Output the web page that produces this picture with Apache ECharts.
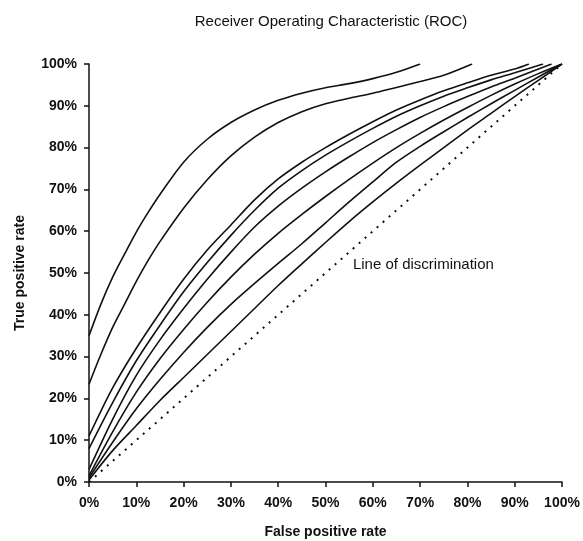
<!DOCTYPE html>
<html>
<head>
<meta charset="utf-8">
<script src="https://cdn.jsdelivr.net/npm/echarts@6/dist/echarts.min.js"></script>
<style>
  html, body { margin: 0; padding: 0; background: #fff; }
  #chart { width: 583px; height: 541px; }
</style>
</head>
<body>
<div id="chart"></div>
<script>
// Tick values (percent)
var tickValues = [0, 10, 20, 30, 40, 50, 60, 70, 80, 90, 100];

// ROC curves: [false positive rate %, true positive rate %]
var curve1 = [[0,35],[2.5,42.5],[5,49],[7.5,54.5],[10,59.8],[12.5,64.5],[15,68.8],[20,76.5],[25,82],[30,86],[35,89],[40,91.3],[45,93],[50,94.3],[55,95.3],[60,96.5],[65,98],[70,100]];
var curve2 = [[0,23.4],[2.5,30.5],[5,37],[7.5,42.5],[10,48],[12.5,53],[15,57.5],[20,65.5],[25,72.3],[30,78],[35,82.5],[40,86],[45,88.6],[50,90.5],[55,91.8],[60,93],[65,94.4],[70,95.8],[75,97.3],[81,100]];
var curve3 = [[0,11],[5,22.5],[10,32],[15,40.5],[20,48.5],[25,55.5],[30,61.5],[35,67.5],[40,72.5],[45,76.5],[50,80],[55,83.2],[60,86.2],[65,89],[70,91.4],[75,93.6],[80,95.5],[85,97.3],[90,98.8],[93,100]];
var curve4 = [[0,8],[5,19],[10,29],[15,37.5],[20,45.5],[25,52.5],[30,59],[35,65],[40,70.3],[45,74.5],[50,78.2],[55,81.5],[60,84.6],[65,87.5],[70,90],[75,92.3],[80,94.3],[85,96.2],[90,97.9],[96,100]];
var curve5 = [[0,3],[5,15],[10,25.5],[15,34],[20,41.5],[25,48.5],[30,55],[35,61],[40,66],[45,70.3],[50,74.2],[55,77.8],[60,81.2],[65,84.3],[70,87.2],[75,89.8],[80,92.2],[85,94.5],[90,96.6],[97.8,100]];
var curve6 = [[0,1.5],[5,12],[10,21.5],[15,29.5],[20,36.5],[25,43],[30,49],[35,54.5],[40,59.5],[45,64],[50,68.3],[55,72.4],[60,76.3],[65,80],[70,83.4],[75,86.6],[80,89.6],[85,92.5],[90,95.2],[95,97.7],[100,100]];
var curve7 = [[0,1],[5,9.5],[10,17.5],[15,24.5],[20,31],[25,37],[30,42.5],[35,47.5],[40,52.3],[45,57],[50,62],[55,67],[60,71.8],[65,76.5],[70,80.3],[75,83.8],[80,87.2],[85,90.5],[90,93.7],[95,96.9],[100,100]];
var curve8 = [[0,0.5],[5,7.5],[10,13.5],[15,19.5],[20,25],[25,30.5],[30,36],[35,41.5],[40,47],[45,52.2],[50,57.3],[55,62.3],[60,67],[65,71.5],[70,75.8],[75,80],[80,84.2],[85,88.2],[90,92.2],[95,96.1],[100,100]];
// Line of discrimination (random classifier)
var diagonal = [[0,0],[100,100]];
var diagonalLabel = 'Line of discrimination';
var diagonalLabelAt = [55.8, 52];

var titleText = 'Receiver Operating Characteristic (ROC)';
var xName = 'False positive rate';
var yName = 'True positive rate';

var FONT = 'Liberation Sans, Arial, Helvetica, sans-serif';
var curves = [curve1, curve2, curve3, curve4, curve5, curve6, curve7, curve8];

var series = curves.map(function (c, i) {
  return {
    type: 'line',
    name: 'ROC ' + (i + 1),
    data: c,
    showSymbol: false,
    smooth: 0.3,
    lineStyle: { color: '#111', width: 1.6 },
    silent: true,
    z: 3
  };
});
series.push({
  type: 'line',
  name: 'diag',
  data: diagonal,
  showSymbol: false,
  lineStyle: { color: '#111', width: 2, type: [2, 6] },
  silent: true,
  z: 2,
  markPoint: {
    symbol: 'circle',
    symbolSize: 0,
    data: [{ coord: diagonalLabelAt, value: diagonalLabel }],
    label: {
      show: true,
      position: 'right',
      distance: 0,
      formatter: diagonalLabel,
      color: '#111',
      fontFamily: FONT,
      fontSize: 15,
      fontWeight: 'normal'
    }
  }
});

var chart = echarts.init(document.getElementById('chart'), null, { renderer: 'canvas' });
chart.setOption({
  animation: false,
  backgroundColor: '#fff',
  title: {
    text: titleText,
    left: 326,
    top: 9,
    textAlign: 'center',
    textStyle: { fontFamily: FONT, fontSize: 15, fontWeight: 'normal', color: '#111' }
  },
  grid: { left: 89, right: 21, top: 64, bottom: 59, containLabel: false, outerBoundsMode: 'none' },
  xAxis: {
    type: 'value',
    min: 0, max: 100, interval: 10,
    name: xName,
    nameLocation: 'middle',
    nameGap: 43,
    nameTextStyle: { fontFamily: FONT, fontSize: 14, fontWeight: 'bold', color: '#111' },
    axisLine: { show: true, lineStyle: { color: '#111', width: 1.5 } },
    axisTick: { show: true, inside: false, length: 5, lineStyle: { color: '#111', width: 1.5 } },
    axisLabel: { formatter: '{value}%', margin: 14, fontFamily: FONT, fontSize: 14, fontWeight: 'bold', color: '#111' },
    splitLine: { show: false }
  },
  yAxis: {
    type: 'value',
    min: 0, max: 100, interval: 10,
    name: yName,
    nameLocation: 'middle',
    nameGap: 62,
    nameTextStyle: { fontFamily: FONT, fontSize: 14, fontWeight: 'bold', color: '#111' },
    axisLine: { show: true, lineStyle: { color: '#111', width: 1.5 } },
    axisTick: { show: true, inside: false, length: 5, lineStyle: { color: '#111', width: 1.5 } },
    axisLabel: { formatter: '{value}%', margin: 12, fontFamily: FONT, fontSize: 14, fontWeight: 'bold', color: '#111' },
    splitLine: { show: false }
  },
  series: series
});
</script>
</body>
</html>
